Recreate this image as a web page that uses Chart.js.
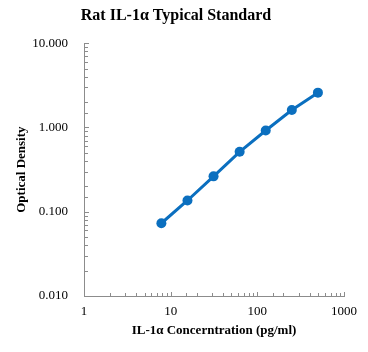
<!DOCTYPE html>
<html><head><meta charset="utf-8">
<script src="https://cdn.jsdelivr.net/npm/chart.js@4.4.1/dist/chart.umd.min.js"></script>
<style>html,body{margin:0;padding:0;background:#fff}#wrap{width:368px;height:352px}</style>
</head><body><div id="wrap"><canvas id="c" width="368" height="352"></canvas></div>
<script>
const concentrations = [7.8125, 15.625, 31.25, 62.5, 125, 250, 500];
const opticalDensity = [0.073, 0.136, 0.263, 0.514, 0.92, 1.61, 2.59];
const xTickLabels = [1, 10, 100, 1000];
const yTickLabels = [0.01, 0.1, 1, 10];

const serif = '"Liberation Serif", "Times New Roman", serif';
const blue = '#0B6FBF';
const axisGray = '#8c8c8c';

function isPow10(v){ const l = Math.log10(v); return Math.abs(l - Math.round(l)) < 1e-9; }

const innerTicks = {
  id: 'innerTicks',
  afterDatasetsDraw(chart){
    const ctx = chart.ctx, x = chart.scales.x, y = chart.scales.y;
    ctx.save();
    ctx.strokeStyle = axisGray; ctx.lineWidth = 1;
    ctx.beginPath();
    x.ticks.forEach(t => {
      const p = Math.round(x.getPixelForValue(t.value)) + 0.5;
      const len = isPow10(t.value) ? 4 : 3;
      ctx.moveTo(p, y.bottom); ctx.lineTo(p, y.bottom - len);
    });
    y.ticks.forEach(t => {
      const p = Math.round(y.getPixelForValue(t.value)) + 0.5;
      const len = isPow10(t.value) ? 5 : 4;
      ctx.moveTo(x.left, p); ctx.lineTo(x.left + len, p);
    });
    ctx.stroke();
    ctx.restore();
  }
};

new Chart(document.getElementById('c'), {
  type: 'scatter',
  data: {
    datasets: [{
      data: concentrations.map((c, i) => ({x: c, y: opticalDensity[i]})),
      showLine: true,
      borderColor: blue,
      backgroundColor: blue,
      borderWidth: 3,
      pointRadius: 5,
      pointHoverRadius: 5,
      pointBorderWidth: 0,
      tension: 0
    }]
  },
  options: {
    responsive: false,
    animation: false,
    devicePixelRatio: 1,
    layout: { padding: { left: 8, right: 24, top: 0, bottom: 8 } },
    plugins: {
      legend: { display: false },
      tooltip: { enabled: false },
      title: {
        display: true,
        text: 'Rat IL-1α Typical Standard',
        color: '#000',
        font: { family: serif, size: 16, weight: 'bold' },
        padding: { top: 6, bottom: 18 }
      }
    },
    scales: {
      x: {
        type: 'logarithmic',
        min: 1, max: 1000,
        grid: { display: false, drawTicks: false },
        border: { display: true, color: axisGray, width: 1 },
        ticks: {
          autoSkip: false, maxRotation: 0, color: '#000', padding: 8,
          font: { family: serif, size: 13 },
          callback: v => xTickLabels.includes(v) ? String(v) : ''
        },
        title: {
          display: true, text: 'IL-1α Concerntration (pg/ml)', color: '#000',
          font: { family: serif, size: 13, weight: 'bold' }, padding: { top: 2, bottom: 6 }
        },
        afterFit: s => { s.height = 48; }
      },
      y: {
        type: 'logarithmic',
        min: 0.01, max: 10,
        grid: { display: false, drawTicks: false },
        border: { display: true, color: axisGray, width: 1 },
        ticks: {
          autoSkip: false, color: '#000', padding: 16,
          font: { family: serif, size: 13 },
          callback: v => yTickLabels.some(t => Math.abs(t - v) < 1e-12) ? Number(v).toFixed(3) : ''
        },
        title: {
          display: true, text: 'Optical Density', color: '#000',
          font: { family: serif, size: 13, weight: 'bold' }, padding: { top: 6, bottom: 4 }
        },
        afterFit: s => { s.width = 76; }
      }
    }
  },
  plugins: [innerTicks]
});
</script></body></html>
